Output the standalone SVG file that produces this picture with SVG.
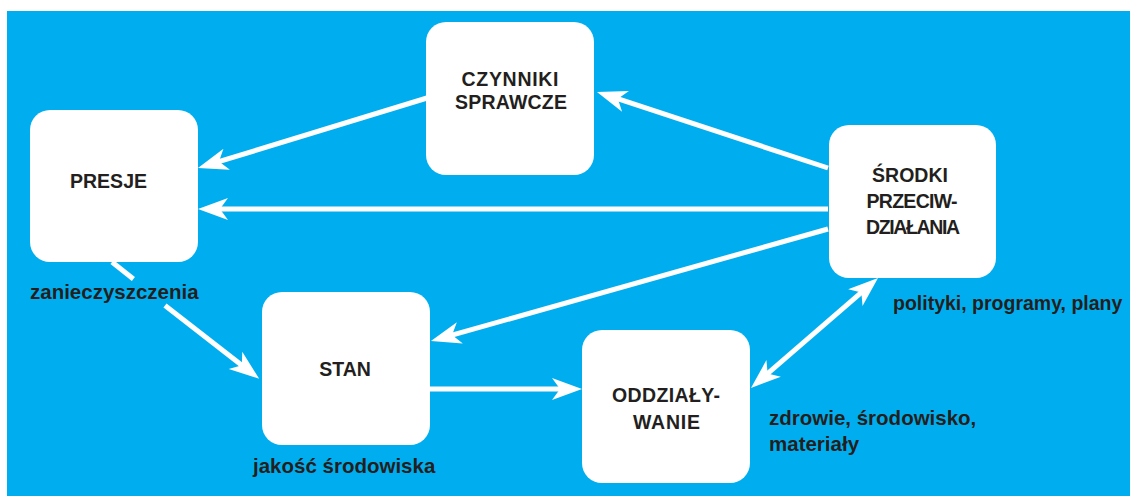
<svg xmlns="http://www.w3.org/2000/svg" width="1130" height="496" viewBox="0 0 1130 496">
<style>
.node{fill:#ffffff;}
.lbl{font-family:"Liberation Sans",Arial,sans-serif;font-weight:bold;font-size:19.5px;fill:#231f20;text-anchor:middle;}
.ann{font-family:"Liberation Sans",Arial,sans-serif;font-weight:bold;font-size:20.5px;fill:#231f20;}
.con{stroke:#ffffff;stroke-width:5;fill:none;}
</style>
<defs>
<marker id="ah" markerUnits="userSpaceOnUse" markerWidth="32" markerHeight="24" refX="10" refY="12" orient="auto-start-reverse" overflow="visible">
<path d="M0,1 L30,12 L0,23 L8,12 Z" fill="#ffffff"/>
</marker>
</defs>
<rect x="7" y="11" width="1123" height="485" fill="#00aeef"/>
<g id="connectors">
<line class="con" x1="828" y1="168" x2="616" y2="98.2" marker-end="url(#ah)"/>
<line class="con" x1="427" y1="98" x2="217.1" y2="162.2" marker-end="url(#ah)"/>
<line class="con" x1="828" y1="209" x2="218" y2="209" marker-end="url(#ah)"/>
<line class="con" x1="828" y1="229" x2="450.2" y2="335.6" marker-end="url(#ah)"/>
<line class="con" x1="112" y1="262" x2="133.4" y2="279"/>
<line class="con" x1="165" y1="305.5" x2="243.4" y2="366.5" marker-end="url(#ah)"/>
<line class="con" x1="430" y1="389" x2="562" y2="389" marker-end="url(#ah)"/>
<line class="con" x1="766.1" y1="374.9" x2="862.9" y2="291.1" marker-start="url(#ah)" marker-end="url(#ah)"/>
</g>
<g id="czynniki">
<rect class="node" x="426" y="22" width="168" height="153" rx="20"/>
<text class="lbl" x="510" y="86" textLength="97" lengthAdjust="spacing">CZYNNIKI</text>
<text class="lbl" x="511" y="109" textLength="112" lengthAdjust="spacing">SPRAWCZE</text>
</g>
<g id="presje">
<rect class="node" x="30" y="110" width="168" height="152" rx="20"/>
<text class="lbl" x="108.5" y="188" textLength="77" lengthAdjust="spacing">PRESJE</text>
</g>
<g id="srodki">
<rect class="node" x="829" y="125" width="167" height="153" rx="20"/>
<text class="lbl" x="910" y="182" textLength="76" lengthAdjust="spacing">ŚRODKI</text>
<text class="lbl" x="912" y="208" textLength="91" lengthAdjust="spacing">PRZECIW-</text>
<text class="lbl" x="913" y="234" textLength="94" lengthAdjust="spacing">DZIAŁANIA</text>
</g>
<g id="stan">
<rect class="node" x="262" y="292" width="168" height="153" rx="20"/>
<text class="lbl" x="345" y="376">STAN</text>
</g>
<g id="oddzialywanie">
<rect class="node" x="582" y="330" width="168" height="153" rx="20"/>
<text class="lbl" x="666" y="402" textLength="108" lengthAdjust="spacing">ODDZIAŁY-</text>
<text class="lbl" x="666.5" y="429" textLength="67" lengthAdjust="spacing">WANIE</text>
</g>
<g id="annotations">
<text class="ann" x="30" y="299">zanieczyszczenia</text>
<text class="ann" x="253" y="473">jakość środowiska</text>
<text class="ann" x="893" y="310" style="font-size:19.5px">polityki, programy, plany</text>
<text class="ann" x="769" y="425">zdrowie, środowisko,</text>
<text class="ann" x="769" y="451">materiały</text>
</g>
</svg>
